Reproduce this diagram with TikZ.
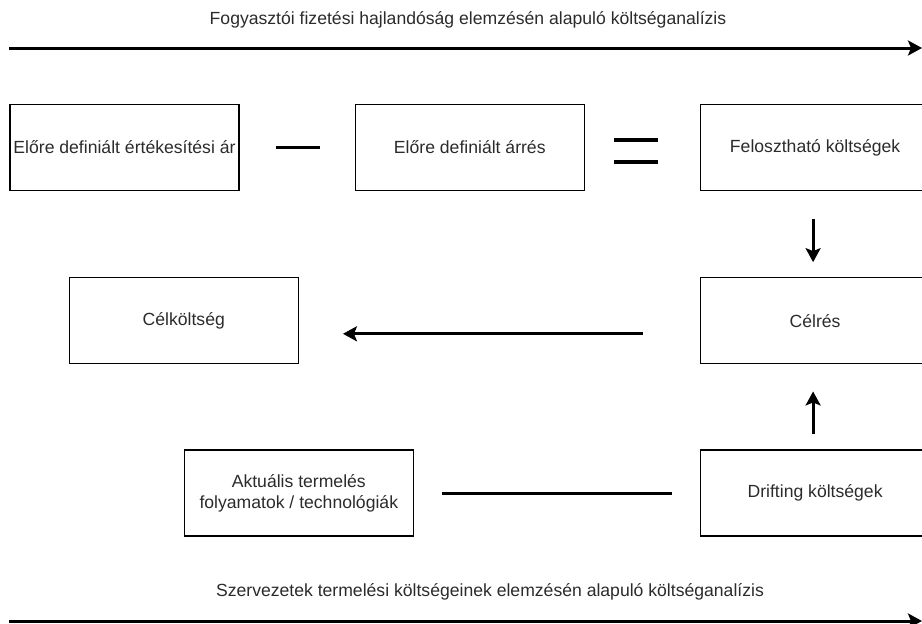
\documentclass[tikz,border=0pt]{standalone}
\usepackage{fontspec}
\setmainfont{Liberation Sans}
\usepackage{xcolor}
\usepackage{tikz}
\usetikzlibrary{arrows.meta,positioning}
\definecolor{costink}{HTML}{000000}
\definecolor{costtext}{HTML}{2B2B2B}

\begin{document}
\begin{tikzpicture}[
  x=1pt,y=-1pt,
  >=Stealth,
  costbox/.style={draw=costink,line width=1.3pt,minimum width=229pt,
    minimum height=86pt,align=center,inner sep=2pt,text=costtext,
    font=\fontsize{17.6}{21}\selectfont},
  caption/.style={text=costtext,font=\fontsize{17.6}{21}\selectfont},
  sign/.style={costink,line width=3.4pt},
  flow/.style={-{Stealth[length=14pt,width=15pt,inset=3pt]},costink,line width=2.8pt},
  axis/.style={-{Stealth[length=14pt,width=15pt,inset=3pt]},costink,line width=3pt}
]
  \useasboundingbox (0,0) rectangle (922,624);

  \node[costbox] (price) at (124.5,147.5) {Előre definiált értékesítési ár};
  \node[costbox,right=115pt of price] (margin) {Előre definiált árrés};
  \node[costbox,right=115pt of margin] (alloc) {Felosztható költségek};
  \node[costbox,below=86pt of alloc] (target) {Célrés};
  \node[costbox,below=85pt of target] (drift) {Drifting költségek};
  \node[costbox,left=401pt of target] (goal) {Célköltség};
  \node[costbox,left=286pt of drift] (process) {Aktuális termelés\\folyamatok / technológiák};

  % axes with captions
  \coordinate (topstart) at (9,48);
  \coordinate (topend) at (922,48);
  \coordinate (botstart) at (9,621);
  \coordinate (botend) at (922,621);
  \node[caption] (toplabel) at (468,20)
    {Fogyasztói fizetési hajlandóság elemzésén alapuló költséganalízis};
  \node[caption] (botlabel) at (490,592)
    {Szervezetek termelési költségeinek elemzésén alapuló költséganalízis};
  \draw[axis] (topstart) -- (topend);
  \draw[axis] (botstart) -- (botend);

  % minus and equals
  \draw[sign] ([xshift=36pt]price.east) -- ([xshift=-35pt]margin.west);
  \draw[sign] ([xshift=29pt,yshift=7.5pt]margin.east) -- ([xshift=-42pt,yshift=7.5pt]alloc.west);
  \draw[sign] ([xshift=29pt,yshift=-14.5pt]margin.east) -- ([xshift=-42pt,yshift=-14.5pt]alloc.west);

  \draw[flow] ([xshift=-2pt,yshift=-28pt]alloc.south) -- ([xshift=-2pt,yshift=15pt]target.north);
  \draw[flow] ([xshift=-2pt,yshift=15pt]drift.north) -- ([xshift=-2pt,yshift=-27pt]target.south);
  \draw[flow] ([xshift=-57pt,yshift=-13pt]target.west) -- ([xshift=44pt,yshift=-13pt]goal.east);
  \draw[costink,line width=2.8pt] ([xshift=28pt]process.east) -- ([xshift=-28pt]drift.west);
\end{tikzpicture}
\end{document}
